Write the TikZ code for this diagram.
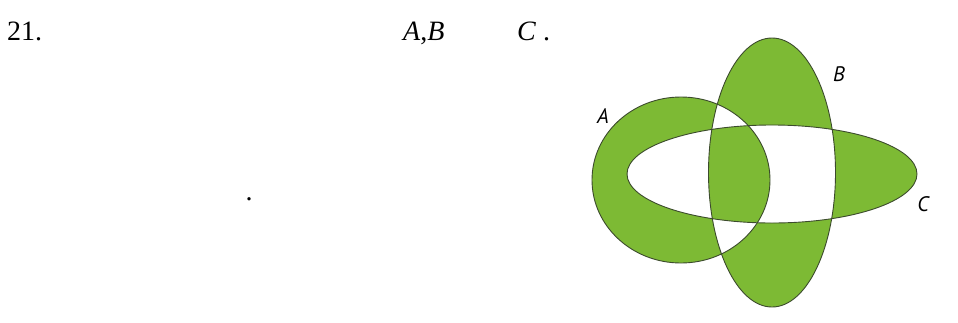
\documentclass[tikz,border=0pt]{standalone}
\usepackage{fontspec}
\setmainfont{Liberation Serif}
\newfontfamily\lblfont{PT Sans}
\definecolor{vgreen}{RGB}{125,186,52}
\definecolor{vline}{RGB}{60,75,45}
\begin{document}
\begin{tikzpicture}[x=1pt,y=-1pt,
  txt/.style={inner sep=0pt,font=\fontsize{28}{34}\selectfont,anchor=base west},
  setlbl/.style={inner sep=0pt,font=\lblfont\itshape\fontsize{21}{24}\selectfont},
  outline/.style={draw=vline,line width=0.9pt}]
\useasboundingbox (0,0) rectangle (958,322);
\fill[vgreen,even odd rule]
  (681,180) ellipse [x radius=89pt,y radius=83pt]
  (772,172.5) ellipse [x radius=63.5pt,y radius=134.5pt]
  (772,174) ellipse [x radius=145pt,y radius=49pt];
\draw[outline] (681,180) ellipse [x radius=89pt,y radius=83pt];
\draw[outline] (772,172.5) ellipse [x radius=63.5pt,y radius=134.5pt];
\draw[outline] (772,174) ellipse [x radius=145pt,y radius=49pt];
\node[setlbl] (la) at (603,116) {A};
\node[setlbl] (lb) at (839,74) {B};
\node[setlbl] (lc) at (923,204) {C};
\node[txt] (num) at (7,40) {21.};
\node[txt] (ab) at (403,40) {\textit{A},\textit{B}};
\node[txt] (c) at (517,40) {\textit{C} .};
\node[txt] (dot) at (245.5,200) {.};
\end{tikzpicture}
\end{document}
